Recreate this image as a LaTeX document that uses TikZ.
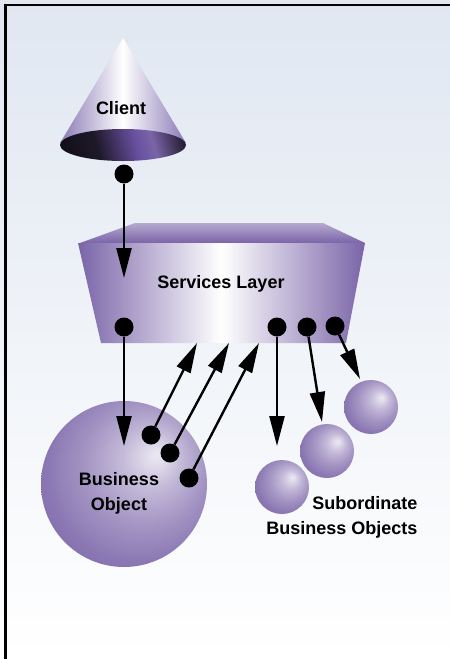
\documentclass[tikz,border=0pt]{standalone}
\usepackage{fontspec}
\setmainfont{Liberation Sans}
\usetikzlibrary{arrows.meta}

\definecolor{bgtop}{RGB}{224,231,241}
\definecolor{lilac}{RGB}{122,100,168}
\definecolor{lilacdark}{RGB}{96,76,146}
\definecolor{conelilac}{RGB}{138,122,182}
\definecolor{rimviolet}{RGB}{104,80,160}

\pgfdeclareradialshading{orb}{\pgfpoint{10bp}{9bp}}{color(0bp)=(white!85!lilac);
  color(2bp)=(white!80!lilac); color(9bp)=(lilac!45!white);
  color(18bp)=(lilac!68!white); color(28bp)=(lilac!88!white);
  color(38bp)=(lilac); color(50bp)=(lilacdark)}
\pgfdeclarehorizontalshading{rim}{100bp}{color(0bp)=(black);
  color(38bp)=(black!75!lilac); color(56bp)=(rimviolet);
  color(64bp)=(lilac); color(78bp)=(black!70!lilac); color(100bp)=(black)}

\begin{document}
\begin{tikzpicture}[x=1pt, y=-1pt,
    dot/.style={circle, fill=black, inner sep=0pt, minimum size=19pt},
    orbnode/.style={circle, shade, shading=orb, inner sep=0pt},
    txt/.style={font=\bfseries\fontsize{18}{25}\selectfont},
    arr/.style={line width=2.4pt, -{Triangle[length=30pt, width=15pt]}}]
    \useasboundingbox (0,0) rectangle (450,659);
    \shade[top color=bgtop, bottom color=white] (0,0) rectangle (450,659);
    \draw[line width=2.5pt] (5.5,659) |- (450,5);

    % client cone
    \shade[left color=conelilac, right color=conelilac, middle color=white]
      (123,38) -- (186,143) -- (60,143) -- cycle;
    \shade[shading=rim, shading angle=15] (123,145) ellipse [x radius=63, y radius=16];
    \node[txt] (client) at (121,108) {Client};

    % services layer
    \shade[top color=lilac!55!white, bottom color=lilac]
      (80,243) -- (135,223) -- (323,223) -- (365,243) -- cycle;
    \shade[left color=lilac, right color=lilac, middle color=white]
      (78,243) -- (365,243) -- (346,343) -- (101,343) -- cycle;
    \node[txt] (services) at (221,284) {Services Layer};

    % business objects
    \node[orbnode, minimum size=166pt] (bizobj) at (124,484) {};
    \node[txt, align=center] (biztxt) at (119,493) {Business\\Object};
    \node[orbnode, minimum size=54pt] (sub1) at (282,487) {};
    \node[orbnode, minimum size=54pt] (sub2) at (327,451) {};
    \node[orbnode, minimum size=54pt] (sub3) at (371,407) {};
    \node[txt, align=right, anchor=east] (subtxt) at (421,517) {Subordinate\\Business Objects};

    \node[dot] (cdot) at (124,174) {};
    \node[dot] (sdot1) at (124,327) {};
    \node[dot] (sdot2) at (277,327) {};
    \node[dot] (sdot3) at (307,327) {};
    \node[dot] (sdot4) at (335,326) {};
    \node[dot] (bdot1) at (151,435) {};
    \node[dot] (bdot2) at (170,453) {};
    \node[dot] (bdot3) at (189,478) {};

    \coordinate (in) at (124,278);
    \coordinate (down) at (124,446);
    \coordinate (up1) at (197,343);
    \coordinate (up2) at (229,343);
    \coordinate (up3) at (259,343);
    \coordinate (to1) at (277,446);
    \coordinate (to2) at (322,422);
    \coordinate (to3) at (360,379);

    \draw[arr] (cdot) to (in);
    \draw[arr] (sdot1) to (down);
    \draw[arr] (bdot1) to (up1);
    \draw[arr] (bdot2) to (up2);
    \draw[arr] (bdot3) to (up3);
    \draw[arr] (sdot2) to (to1);
    \draw[arr] (sdot3) to (to2);
    \draw[arr] (sdot4) to (to3);
\end{tikzpicture}
\end{document}
